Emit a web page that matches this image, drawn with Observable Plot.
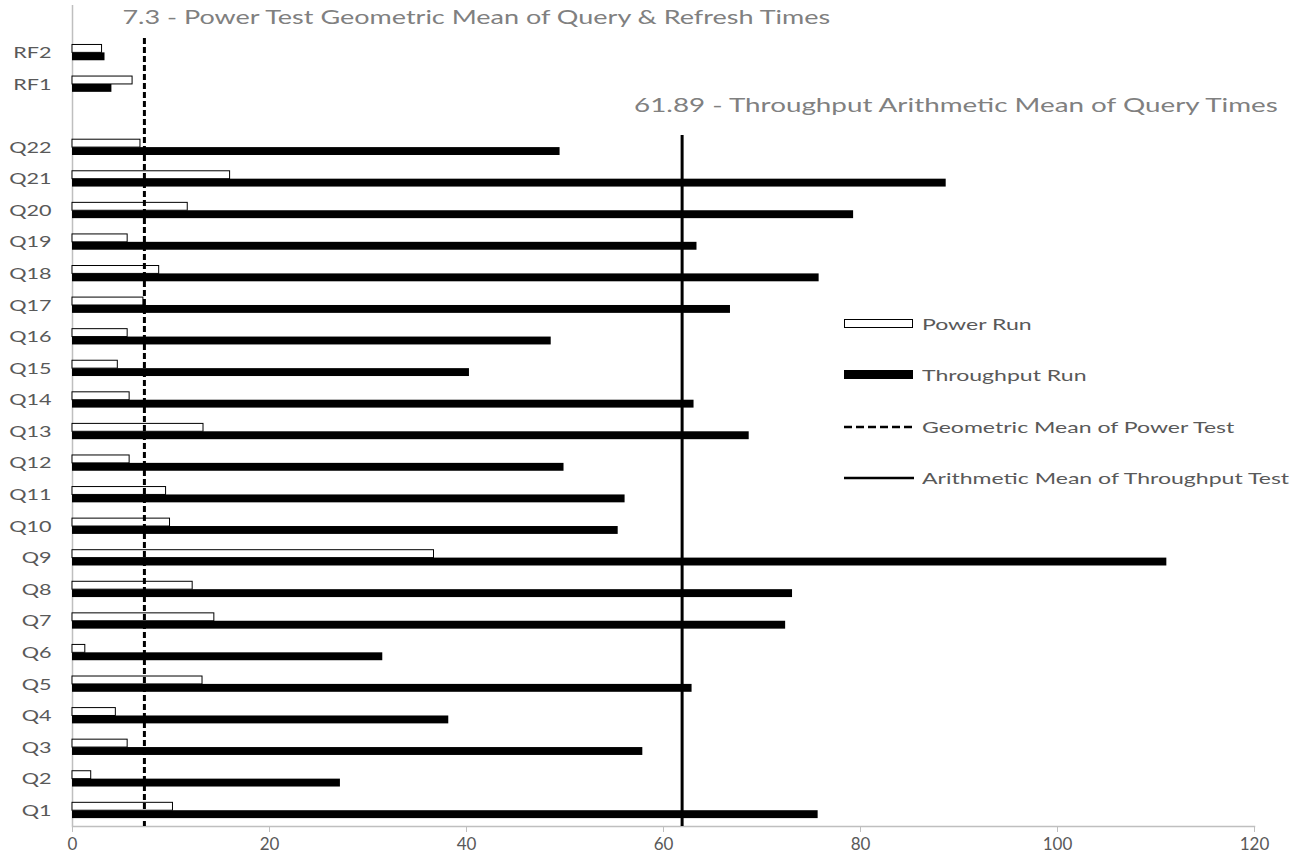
<!DOCTYPE html>
<html>
<head>
<meta charset="utf-8">
<script src="https://cdn.jsdelivr.net/npm/d3@7"></script>
<script src="https://cdn.jsdelivr.net/npm/@observablehq/plot@0.6"></script>
<style>
  html, body { margin: 0; padding: 0; background: #fff; }
  #wrap { position: relative; width: 1306px; height: 859px; font-family: Lato, "Open Sans", sans-serif; }
  #legend { position: absolute; left: 844px; top: 298px; color: #595959; font-size: 16px; }
  #legend .item { display: flex; align-items: center; height: 51.5px; white-space: nowrap; }
  #legend .item svg { margin-right: 8px; flex: none; }
  #legend .item span { display: inline-block; line-height: 1; transform: scaleX(1.44); transform-origin: left center; }
</style>
</head>
<body>
<div id="wrap">
  <div id="chart"></div>
  <div id="legend"></div>
</div>
<script>
// ---- data ----
const categories = ["Q1","Q2","Q3","Q4","Q5","Q6","Q7","Q8","Q9","Q10","Q11","Q12","Q13","Q14","Q15","Q16","Q17","Q18","Q19","Q20","Q21","Q22","RF1","RF2"];
const powerRun = [10.2, 1.9, 5.6, 4.4, 13.2, 1.3, 14.4, 12.2, 36.7, 9.9, 9.5, 5.8, 13.3, 5.8, 4.6, 5.6, 7.2, 8.8, 5.6, 11.7, 16.0, 6.9, 6.1, 3.0];
const throughputRun = [75.7, 27.2, 57.9, 38.2, 62.9, 31.5, 72.4, 73.1, 111.1, 55.4, 56.1, 49.9, 68.7, 63.1, 40.3, 48.6, 66.8, 75.8, 63.4, 79.3, 88.7, 49.5, 4.0, 3.3];
const geometricMean = 7.3;
const arithmeticMean = 61.89;
const xTicks = [0, 20, 40, 60, 80, 100, 120];
const legendLabels = ["Power Run", "Throughput Run", "Geometric Mean of Power Test", "Arithmetic Mean of Throughput Test"];

// ---- layout ----
const width = 1306, height = 859;
const marginTop = 5, marginBottom = 33, marginLeft = 72, marginRight = 52;
// vertical order (top to bottom), with spacer bands
const yDomain = ["_top", "RF2", "RF1", "_gap", ...categories.slice(0, 22).reverse()];
const step = (height - marginTop - marginBottom) / yDomain.length;
const bandwidth = step * 0.5;
const half = bandwidth / 2;

const rows = categories.map((c, i) => ({cat: c, power: powerRun[i], throughput: throughputRun[i]}));

const textGray = "#595959";
const axisGray = "#bfbfbf";

const chart = Plot.plot({
  width, height, marginTop, marginBottom, marginLeft, marginRight,
  style: {fontFamily: "Lato, 'Open Sans', sans-serif", background: "#fff"},
  x: {domain: [0, 120], ticks: xTicks},
  y: {domain: yDomain, paddingInner: 0.5, paddingOuter: 0.25, round: false},
  marks: [
    Plot.ruleX([0], {stroke: axisGray, strokeWidth: 1.5}),
    Plot.frame({anchor: "bottom", stroke: axisGray, strokeWidth: 1.5}),
    Plot.axisX({ticks: xTicks, tickSize: 6, stroke: axisGray, color: textGray, fontSize: 17, tickPadding: 5, label: null}),
    Plot.axisY({ticks: categories, tickSize: 0, tickPadding: 21, color: textGray, fontSize: 16, label: null, className: "yax"}),
    Plot.barX(rows, {y: "cat", x: "throughput", fill: "#000", insetTop: half}),
    Plot.barX(rows, {y: "cat", x: "power", fill: "#fff", stroke: "#000", strokeWidth: 1, insetBottom: half}),
    Plot.ruleX([geometricMean], {stroke: "#000", strokeWidth: 3, strokeDasharray: "6,3", insetTop: 33}),
    Plot.ruleX([arithmeticMean], {stroke: "#000", strokeWidth: 3, insetTop: 130}),
    Plot.text([geometricMean], {x: d => d, frameAnchor: "top", lineAnchor: "middle", dy: 12, dx: -22, textAnchor: "start",
      text: d => `${d} - Power Test Geometric Mean of Query & Refresh Times`, fontSize: 20, fill: "#808080", className: "ann1"}),
    Plot.text([arithmeticMean], {x: d => d, frameAnchor: "top", lineAnchor: "middle", dy: 100, dx: -48, textAnchor: "start",
      text: d => `${d} - Throughput Arithmetic Mean of Query Times`, fontSize: 20, fill: "#808080", className: "ann2"})
  ]
});
document.getElementById("chart").appendChild(chart);

// widen text horizontally to match the reference's wide lettering
function stretch(sel, factor) {
  d3.select(chart).selectAll(sel).each(function() {
    const w = this.getComputedTextLength();
    this.setAttribute("textLength", w * factor);
    this.setAttribute("lengthAdjust", "spacingAndGlyphs");
  });
}
stretch("g[aria-label='y-axis tick label'] text", 1.35);
stretch(".ann1 text", 1.35);
stretch(".ann2 text", 1.39);

// ---- legend ----
const swatches = [
  `<svg width="70" height="12"><rect x="0.5" y="1.5" width="68" height="8" fill="#fff" stroke="#000"/></svg>`,
  `<svg width="70" height="12"><rect x="0" y="1" width="69" height="9" fill="#000"/></svg>`,
  `<svg width="70" height="12"><line x1="0" x2="70" y1="6" y2="6" stroke="#000" stroke-width="2.5" stroke-dasharray="8,4"/></svg>`,
  `<svg width="70" height="12"><line x1="0" x2="70" y1="6" y2="6" stroke="#000" stroke-width="2.5"/></svg>`
];
const legend = d3.select("#legend");
legendLabels.forEach((l, i) => {
  const item = legend.append("div").attr("class", "item");
  item.html(swatches[i]);
  item.append("span").text(l);
});
</script>
</body>
</html>
